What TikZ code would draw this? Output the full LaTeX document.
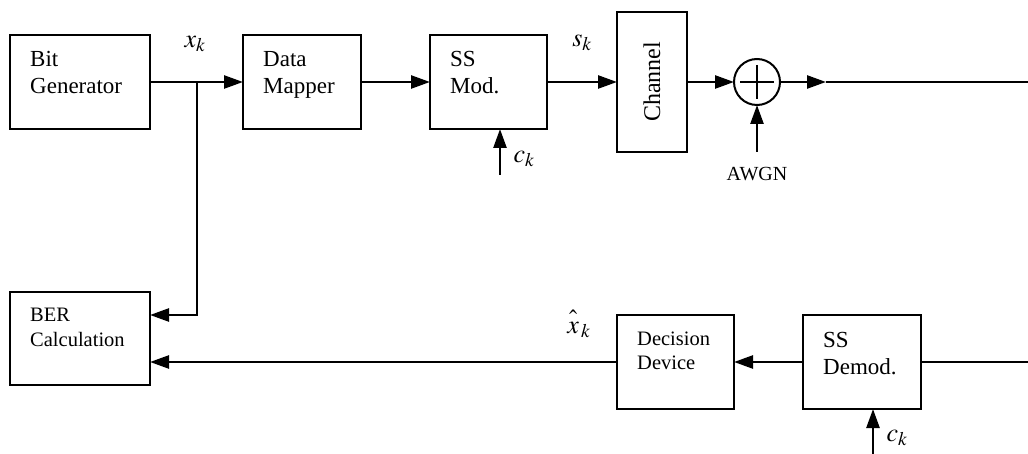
\documentclass[tikz,border=0pt]{standalone}
\usepackage{mathptmx}
\usepackage{fontspec}
\setmainfont{Liberation Serif}
\usetikzlibrary{arrows.meta,calc}
\tikzset{
  blk/.style={draw, line width=2pt, inner sep=0pt, outer sep=0pt},
  lbl/.style={anchor=base west, inner sep=0pt, font=\fontsize{23}{27}\selectfont},
  slbl/.style={anchor=base west, inner sep=0pt, font=\fontsize{20.5}{24}\selectfont},
  mlbl/.style={inner sep=0pt, font=\fontsize{26}{30}\selectfont},
  wire/.style={line width=2.5pt},
  conn/.style={line width=2.5pt, -{Triangle[length=19pt,width=13pt]}},
}
\begin{document}
\begin{tikzpicture}[x=1pt,y=-1pt]
\useasboundingbox (0,0) rectangle (1028,454);
\fill[white] (0,0) rectangle (1028,454);
% blocks
\node[blk, minimum width=140pt, minimum height=94pt] (bitgen) at (80,82) {};
\node[blk, minimum width=118pt, minimum height=94pt] (mapper) at (302,82) {};
\node[blk, minimum width=117pt, minimum height=94pt] (ssmod) at (488.5,82) {};
\node[blk, minimum width=70pt, minimum height=140pt] (channel) at (652,82) {};
\node[blk, circle, minimum size=46pt] (adder) at (757,82) {};
\node[blk, minimum width=140pt, minimum height=93pt] (ber) at (80,338.5) {};
\node[blk, minimum width=117pt, minimum height=94pt] (decision) at (675.5,362) {};
\node[blk, minimum width=118pt, minimum height=94pt] (demod) at (862,362) {};
% plus sign
\draw[line width=2.2pt] ([yshift=17pt]adder.center) -- ([yshift=-17pt]adder.center);
\draw[line width=2.2pt] ([xshift=-17pt]adder.center) -- ([xshift=17pt]adder.center);
% block texts
\node[lbl] (t1a) at ($(bitgen.north west)+(20,32)$) {Bit};
\node[lbl] (t1b) at ($(bitgen.north west)+(20,59)$) {Generator};
\node[lbl] (t2a) at ($(mapper.north west)+(20,32)$) {Data};
\node[lbl] (t2b) at ($(mapper.north west)+(20,59)$) {Mapper};
\node[lbl] (t3a) at ($(ssmod.north west)+(20,32)$) {SS};
\node[lbl] (t3b) at ($(ssmod.north west)+(20,59)$) {Mod.};
\node[rotate=90, inner sep=0pt, font=\fontsize{24}{28}\selectfont] (t4) at (channel.center) {Channel};
\node[slbl] (t5a) at ($(ber.north west)+(20,29)$) {BER};
\node[slbl] (t5b) at ($(ber.north west)+(20,54)$) {Calculation};
\node[slbl] (t6a) at ($(decision.north west)+(20,30)$) {Decision};
\node[slbl] (t6b) at ($(decision.north west)+(20,54)$) {Device};
\node[lbl] (t7a) at ($(demod.north west)+(20,32)$) {SS};
\node[lbl] (t7b) at ($(demod.north west)+(20,59)$) {Demod.};
% coordinates
\coordinate (j) at (197,82);
\coordinate (outtip) at (826,82);
\coordinate (outend) at (1028,82);
\coordinate (inend) at (1028,362);
\coordinate (ck1) at (500,175);
\coordinate (ck2) at (873,454);
\coordinate (awgnsrc) at (757,152);
% connectors
\draw[wire] (bitgen.east) -- (j);
\draw[conn] (j) -- (mapper.west);
\draw[conn] (mapper.east) -- (ssmod.west);
\draw[conn] (ssmod.east) -- (channel.west);
\draw[conn] (channel.east) -- (adder.west);
\draw[conn] (adder.east) -- (outtip);
\draw[wire] (outtip) -- (outend);
\draw[conn] (j) |- ([yshift=23.5pt]ber.east);
\draw[wire] (inend) -- (demod.east);
\draw[conn] (demod.west) -- (decision.east);
\draw[conn] (decision.west) -- ([yshift=-23.5pt]ber.east);
\draw[conn] (ck1) -- (ck1 |- ssmod.south);
\draw[conn] (ck2) -- (ck2 |- demod.south);
\draw[conn] (awgnsrc) -- (adder.south);
% labels
\node[mlbl] (xk) at (195,44) {$x_k$};
\node[mlbl] (sk) at (582,43) {$s_k$};
\node[mlbl] (ck1l) at (524,159) {$c_k$};
\node[inner sep=0pt, font=\fontsize{20}{24}\selectfont] (awgn) at (757,174) {AWGN};
\node[mlbl] (xhat) at (579,324) {$\hat{\vphantom{h}x}_{\,k}$};
\node[mlbl] (ck2l) at (897,438) {$c_k$};
\end{tikzpicture}
\end{document}
